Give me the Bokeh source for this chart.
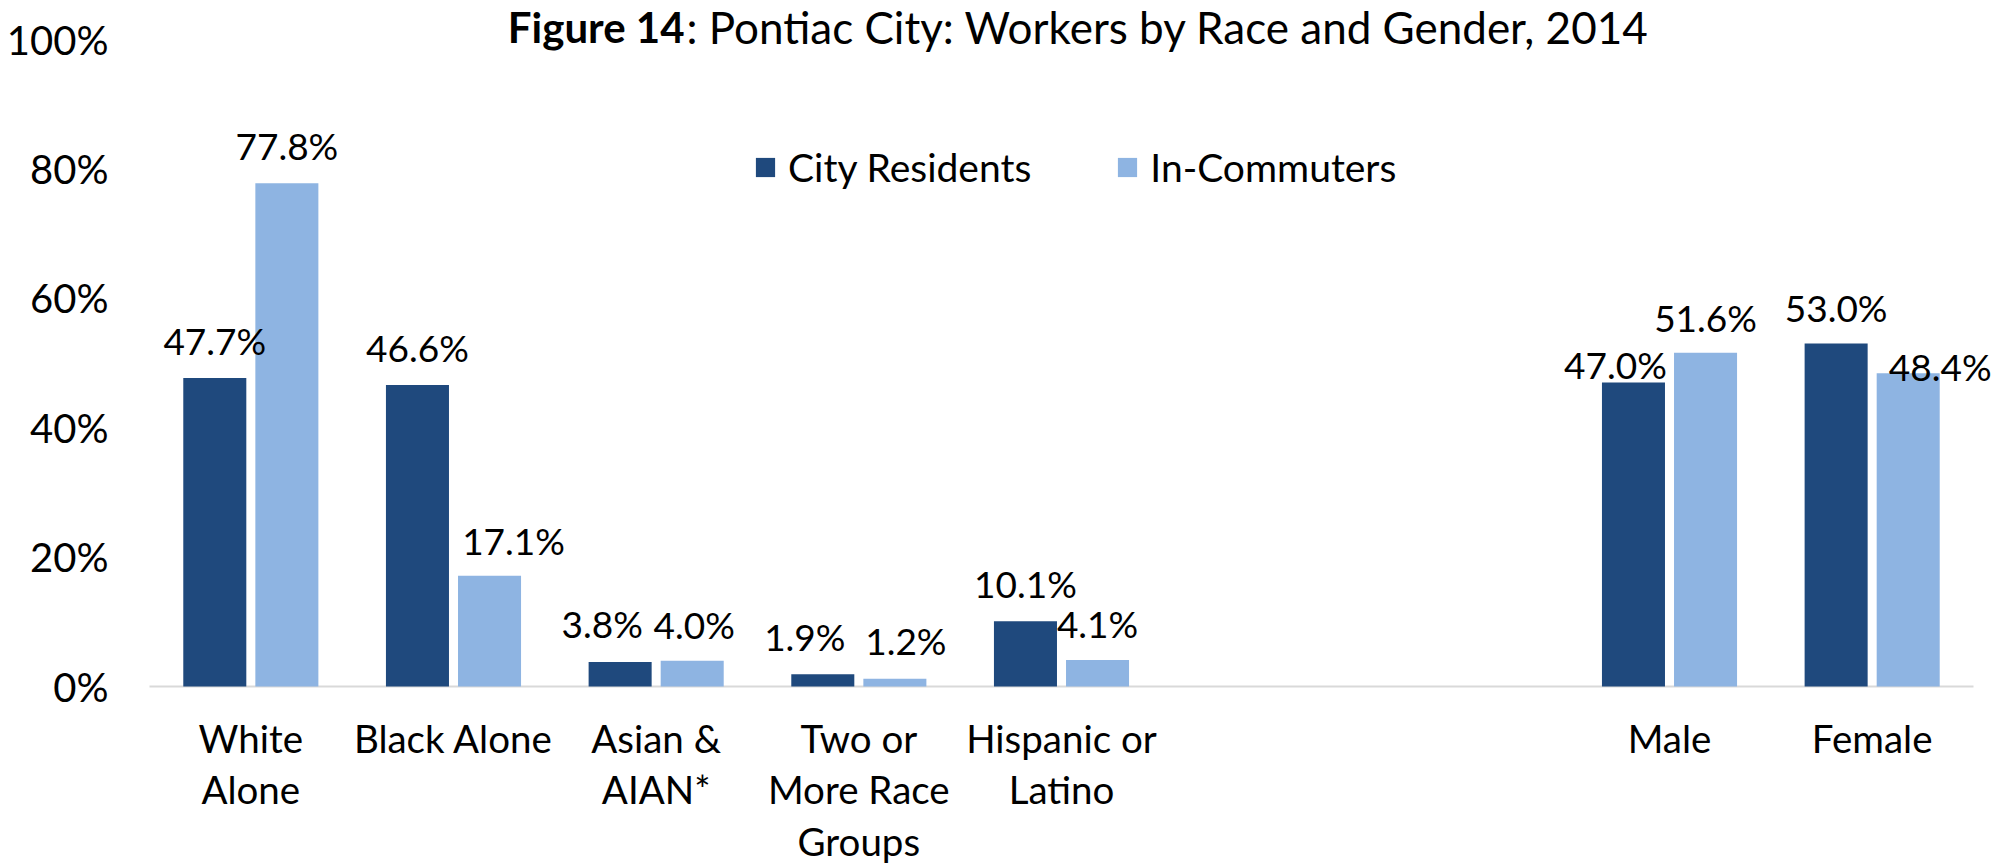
from bokeh.plotting import figure
from bokeh.models import (FactorRange, Range1d, FixedTicker, Legend, LegendItem,
                          Label, ColumnDataSource, PrintfTickFormatter)
from bokeh.transform import dodge
from bokeh.core.properties import value
from bokeh.embed import file_html
from bokeh.resources import INLINE

# ---------------- data ----------------
axis_categories = ["White\nAlone", "Black Alone", "Asian &\nAIAN*",
                   "Two or\nMore Race\nGroups", "Hispanic or\nLatino",
                   " ", "  ", "Male", "Female"]
data_categories = ["White\nAlone", "Black Alone", "Asian &\nAIAN*",
                   "Two or\nMore Race\nGroups", "Hispanic or\nLatino",
                   "Male", "Female"]
city_residents = [47.7, 46.6, 3.8, 1.9, 10.1, 47.0, 53.0]
in_commuters = [77.8, 17.1, 4.0, 1.2, 4.1, 51.6, 48.4]
y_ticks = [0, 20, 40, 60, 80, 100]

# ---------------- styling / label placement (pixels) ----------------
DARK = "#1F497D"
LIGHT = "#8EB4E2"
FONT = "Lato"
res_label_dx = [0, 0, -18, -18, 0, -18, 0]
res_label_gap = [25, 25, 26, 25, 25, 5, 24]
com_label_dx = [0, 24, 2, 11, 0, 0, 32]
com_label_gap = [25, 23, 24, 26, 24, 23, -6]
HALF_CAP = 12.5

src = ColumnDataSource(dict(
    cat=data_categories,
    res=city_residents,
    com=in_commuters,
    res_txt=[f"{v:.1f}%" for v in city_residents],
    com_txt=[f"{v:.1f}%" for v in in_commuters],
    res_dx=res_label_dx,
    res_dy=[-(g + HALF_CAP) for g in res_label_gap],
    com_dx=com_label_dx,
    com_dy=[-(g + HALF_CAP) for g in com_label_gap],
    zero=[0] * len(data_categories),
))

p = figure(width=2012, height=866, output_backend="svg", toolbar_location=None,
           x_range=FactorRange(*axis_categories, range_padding=0.148,
                               range_padding_units="absolute"),
           y_range=Range1d(-27.82, 106.03),
           min_border_left=119, min_border_right=9, min_border_top=0,
           min_border_bottom=0)
p.outline_line_color = None
p.xgrid.visible = False
p.ygrid.visible = False
p.background_fill_color = "white"
p.border_fill_color = "white"
p.xaxis.visible = False

# category axis baseline
base = ColumnDataSource(dict(x0=[axis_categories[0]], x1=[axis_categories[-1]], y=[0]))
p.segment(x0=dodge("x0", -0.5, range=p.x_range), y0="y",
          x1=dodge("x1", 0.5, range=p.x_range), y1="y", source=base,
          line_color="#D9D9D9", line_width=2)

off = 0.1778
bw = 0.311
r1 = p.vbar(x=dodge("cat", -off, range=p.x_range), top="res", width=bw,
            source=src, fill_color=DARK, line_color=None)
r2 = p.vbar(x=dodge("cat", off, range=p.x_range), top="com", width=bw,
            source=src, fill_color=LIGHT, line_color=None)

p.text(x=dodge("cat", -off, range=p.x_range), y="res", text="res_txt",
       x_offset="res_dx", y_offset="res_dy", source=src,
       text_align="center", text_baseline="middle",
       text_font=value(FONT), text_font_size="37px", text_color="black")
p.text(x=dodge("cat", off, range=p.x_range), y="com", text="com_txt",
       x_offset="com_dx", y_offset="com_dy", source=src,
       text_align="center", text_baseline="middle",
       text_font=value(FONT), text_font_size="37px", text_color="black")

# category labels under the baseline
p.text(x="cat", y="zero", text="cat", source=src, y_offset=28,
       text_align="center", text_baseline="top", text_line_height=1.13,
       text_font=value(FONT), text_font_size="38.5px", text_color="black")

# y axis
p.yaxis.ticker = FixedTicker(ticks=y_ticks)
p.yaxis.formatter = PrintfTickFormatter(format="%d%%")
p.yaxis.axis_line_color = None
p.yaxis.major_tick_line_color = None
p.yaxis.minor_tick_line_color = None
p.yaxis.major_tick_out = 0
p.yaxis.major_tick_in = 0
p.yaxis.major_label_standoff = 11
p.yaxis.major_label_text_font = FONT
p.yaxis.major_label_text_font_size = "40px"
p.yaxis.major_label_text_color = "black"

# title (bold part + regular part)
t1 = Label(x=2.6398, y=102.0, text="Figure 14", text_font=FONT,
           text_font_style="bold", text_font_size="42px", text_color="black",
           text_baseline="middle", text_align="right")
t2 = Label(x=2.6497, y=102.0, text=": Pontiac City: Workers by Race and Gender, 2014",
           text_font=FONT, text_font_size="44px", text_color="black",
           text_baseline="middle", text_align="left")
p.add_layout(t1)
p.add_layout(t2)

legend = Legend(items=[LegendItem(label="City Residents", renderers=[r1]),
                       LegendItem(label="In-Commuters", renderers=[r2])],
                orientation="horizontal", location=(634, 676),
                glyph_width=24, glyph_height=24, label_standoff=11, spacing=84,
                padding=0, margin=0, border_line_color=None,
                background_fill_alpha=0, label_text_font=FONT,
                label_text_font_size="39px", label_height=24,
                label_text_color="black")
p.add_layout(legend)

open("out.html", "w").write(file_html(p, INLINE))
